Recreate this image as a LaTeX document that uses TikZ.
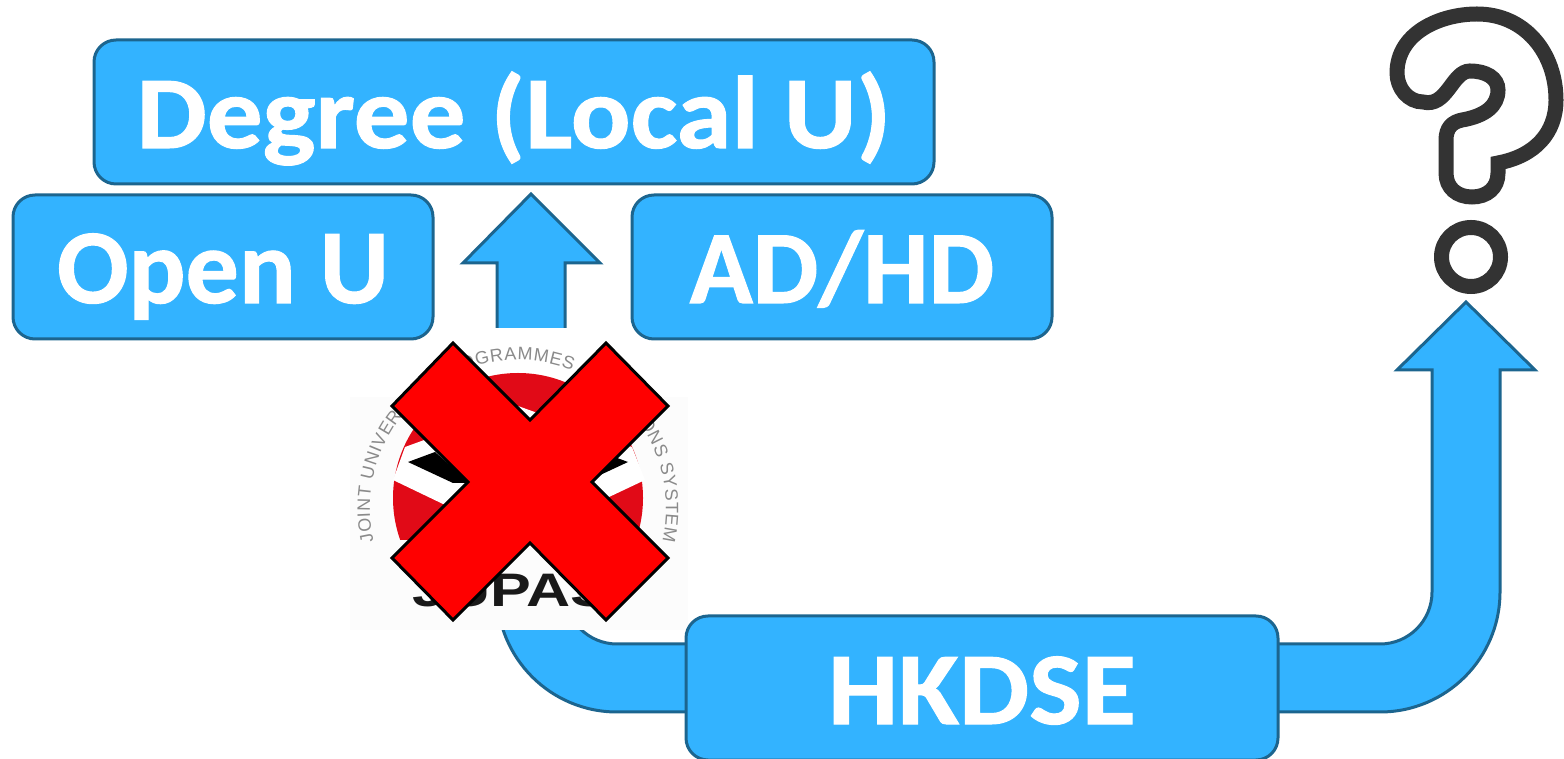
\documentclass[tikz,border=0pt]{standalone}
\usepackage{fontspec}
\setmainfont{Carlito}
\newfontfamily\heavyfont[FakeBold=1]{Carlito}
\newfontfamily\widefont[FakeStretch=1.08,FakeBold=1]{Carlito}
\newfontfamily\logofont{Liberation Sans}
\usetikzlibrary{decorations.text}
\definecolor{boxfill}{HTML}{33B3FF}
\definecolor{boxline}{HTML}{1C658F}
\definecolor{markdark}{HTML}{333333}
\definecolor{logored}{HTML}{E10A17}
\definecolor{logogray}{HTML}{8A8A8A}
\tikzset{
  roundbox/.style={rectangle, rounded corners=22pt, minimum height=144pt, text height=80pt, text depth=8pt, draw=boxline, fill=boxfill, line width=3pt, text=white},
  blockarrow/.style={draw=boxline, fill=boxfill, line width=3pt, line join=miter}
}
\begin{document}
\begin{tikzpicture}[x=1pt,y=1pt]
\useasboundingbox (0,0) rectangle (1564,758);
% arrows out of the HKDSE box
\coordinate (degreetip) at (531,564);
\coordinate (unknowntip) at (1466,456);
\draw[blockarrow] (degreetip) -- ++(69,-69) -- ++(-35,0) -- ++(0,-329) arc[start angle=180,end angle=270,radius=52] -- ++(83,0) -- ++(0,-68) -- ++(-83,0) arc[start angle=270,end angle=180,radius=120] -- ++(0,329) -- ++(-34,0) -- cycle;
\draw[blockarrow] (unknowntip) -- ++(69,-68) -- ++(-35,0) -- ++(0,-222) arc[start angle=0,end angle=-90,radius=120] -- ++(-110,0) -- ++(0,68) -- ++(110,0) arc[start angle=-90,end angle=0,radius=52] -- ++(0,222) -- ++(-35,0) -- cycle;
% logo
\fill[white] (350,128) rectangle (690,430);
\fill[black!1] (350,128) rectangle (688,361);
\fill[logored] (518,260) circle (125);
\fill[black!1] (385,128) rectangle (655,218);
\fill[white] (405,311) -- (518,352) -- (632,311) -- (645,278) -- (518,218) -- (393,278) -- cycle;
\fill[black] (408,296) -- (435,306) -- (470,275) -- (453,275) -- cycle;
\fill[black] (628,296) -- (601,306) -- (566,275) -- (583,275) -- cycle;
\path[decorate, decoration={text along path, text align={fit to path}, text={|\logofont\fontsize{18}{18}\selectfont\color{logogray}|JOINT UNIVERSITY PROGRAMMES ADMISSIONS SYSTEM}}] (518,250) ++(193:148) arc[start angle=193,end angle=-13,radius=148];
\node (jupas)[xscale=1.3, text=black!90] at (512,168) {\logofont\fontsize{47}{47}\selectfont\bfseries JUPAS};
% red cross
\draw[fill=red, draw=black, line width=3pt, line join=miter] (453,415) -- (530,338) -- (606,415) -- (668,352) -- (592,276) -- (668,200) -- (606,138) -- (530,215) -- (453,138) -- (392,200) -- (468,276) -- (392,352) -- cycle;
% boxes
\node (degree)[roundbox, minimum width=840pt, font=\widefont\fontsize{103}{103}\selectfont\bfseries] at (514,646) {Degree (Local U)};
\node (openu)[roundbox, minimum width=420pt, font=\heavyfont\fontsize{106}{106}\selectfont\bfseries] at (223,491) {Open U};
\node (adhd)[roundbox, minimum width=420pt, font=\heavyfont\fontsize{104}{104}\selectfont\bfseries] at (842,491) {AD/HD};
\node (hkdse)[roundbox, minimum width=592pt, font=\widefont\fontsize{103}{103}\selectfont\bfseries] at (982,70) {HKDSE};
% question mark
\draw[markdark, line width=15pt, line join=miter] (1477,744) .. controls (1525,744) and (1556,705) .. (1556,658) .. controls (1556,625) and (1535,602) .. (1498,595) -- (1498,585) .. controls (1498,570) and (1487,561) .. (1472,561) .. controls (1457,561) and (1446,570) .. (1446,585) -- (1446,618) .. controls (1446,630) and (1452,636) .. (1462,638) .. controls (1485,642) and (1498,652) .. (1498,668) .. controls (1498,680) and (1486,687) .. (1470,687) .. controls (1452,687) and (1447,650) .. (1423,656) .. controls (1408,656) and (1397,670) .. (1397,685) .. controls (1397,725) and (1440,744) .. (1477,744) -- cycle;
\node (dot)[circle, draw=markdark, line width=15pt, minimum size=59pt, inner sep=0pt] at (1471,501) {};
\end{tikzpicture}
\end{document}
